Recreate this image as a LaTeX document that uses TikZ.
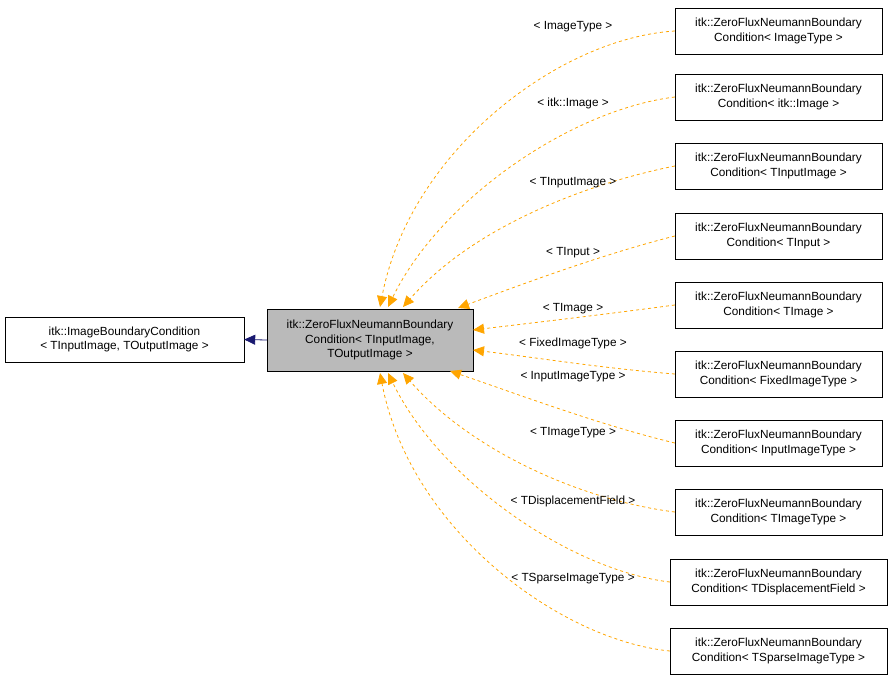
\documentclass[tikz,border=0pt]{standalone}
\usepackage{fontspec}
\setmainfont{Liberation Sans}
\usetikzlibrary{arrows.meta}
\definecolor{org}{HTML}{FFA500}
\definecolor{nav}{HTML}{191970}
\begin{document}
\begin{tikzpicture}[x=1pt,y=-1pt,
  box/.style={draw=black,fill=white,minimum width=207pt,minimum height=46pt,align=center,inner sep=1pt},
  wbox/.style={box,minimum width=217pt},
  lbl/.style={inner sep=1pt},
  inh/.style={draw=org,dashed,-{Triangle[length=11pt,width=10pt,fill=org]},line width=0.8pt},
  every node/.style={font=\fontsize{11.8}{14.5}\selectfont}]
\useasboundingbox (0,0) rectangle (893,680);
\node[draw=black,fill=white,minimum width=239pt,minimum height=45pt,align=center,inner sep=1pt] (base) at (124.5,339.5) {itk::ImageBoundaryCondition\\< TInputImage, TOutputImage >};
\node[draw=black,fill=black!27,minimum width=206pt,minimum height=62pt,align=center,inner sep=1pt] (m) at (370,340) {itk::ZeroFluxNeumannBoundary\\Condition< TInputImage,\\ TOutputImage >};
\draw[draw=nav,-{Triangle[length=11pt,width=10pt]},line width=0.8pt] (m.west) -- (base.east);
\node[box] (r1) at (778.5,31) {itk::ZeroFluxNeumannBoundary\\Condition< ImageType >};
\node[box] (r2) at (778.5,97) {itk::ZeroFluxNeumannBoundary\\Condition< itk::Image >};
\node[box] (r3) at (778.5,166) {itk::ZeroFluxNeumannBoundary\\Condition< TInputImage >};
\node[box] (r4) at (778.5,236) {itk::ZeroFluxNeumannBoundary\\Condition< TInput >};
\node[box] (r5) at (778.5,305) {itk::ZeroFluxNeumannBoundary\\Condition< TImage >};
\node[box] (r6) at (778.5,374) {itk::ZeroFluxNeumannBoundary\\Condition< FixedImageType >};
\node[box] (r7) at (778.5,443) {itk::ZeroFluxNeumannBoundary\\Condition< InputImageType >};
\node[box] (r8) at (778.5,512) {itk::ZeroFluxNeumannBoundary\\Condition< TImageType >};
\node[wbox] (r9) at (778.5,582) {itk::ZeroFluxNeumannBoundary\\Condition< TDisplacementField >};
\node[wbox] (r10) at (778.5,651) {itk::ZeroFluxNeumannBoundary\\Condition< TSparseImageType >};
\draw[inh] (r1.west) .. controls (560,38) and (410,150) .. (380,307);
\draw[inh] (r2.west) .. controls (570,110) and (440,200) .. (388,307);
\draw[inh] (r3.west) .. controls (580,185) and (470,230) .. (403,307);
\draw[inh] (r4.west) .. controls (600,255) and (520,285) .. (458,308);
\draw[inh] (r5.west) .. controls (600,315) and (540,322) .. (473,330);
\draw[inh] (r6.west) .. controls (600,368) and (540,358) .. (473,350);
\draw[inh] (r7.west) .. controls (600,425) and (520,395) .. (450,371);
\draw[inh] (r8.west) .. controls (580,500) and (470,450) .. (403,373);
\draw[inh] (r9.west) .. controls (570,570) and (440,480) .. (388,373);
\draw[inh] (r10.west) .. controls (560,640) and (410,530) .. (380,373);
\node[lbl] at (573,27) {< ImageType >};
\node[lbl] at (573,103) {< itk::Image >};
\node[lbl] at (573,183) {< TInputImage >};
\node[lbl] at (573,253) {< TInput >};
\node[lbl] at (573,309) {< TImage >};
\node[lbl] at (573,343) {< FixedImageType >};
\node[lbl] at (573,377) {< InputImageType >};
\node[lbl] at (573,433) {< TImageType >};
\node[lbl] at (573,501) {< TDisplacementField >};
\node[lbl] at (573,579) {< TSparseImageType >};
\end{tikzpicture}
\end{document}
